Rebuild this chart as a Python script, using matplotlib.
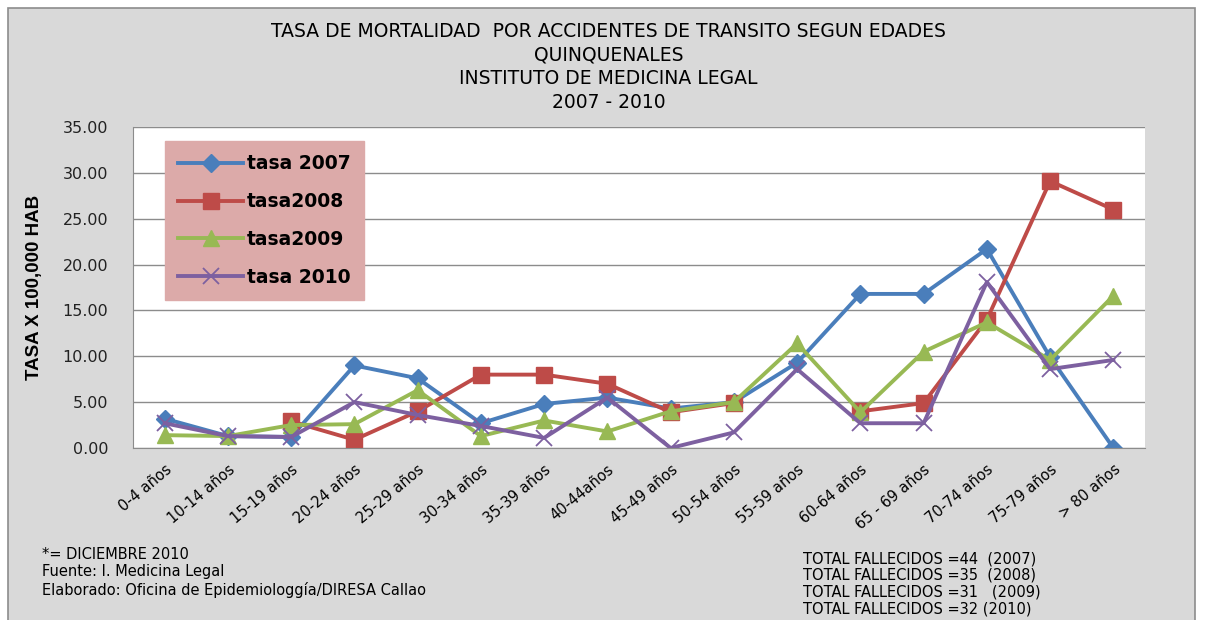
import numpy as np
import matplotlib
matplotlib.use("Agg")
import matplotlib.pyplot as plt
from matplotlib.patches import Rectangle

# Age groups and rates per 100,000
edades = ["0-4 años", "10-14 años", "15-19 años", "20-24 años", "25-29 años",
          "30-34 años", "35-39 años", "40-44años", "45-49 años", "50-54 años",
          "55-59 años", "60-64 años", "65 - 69 años", "70-74 años", "75-79 años",
          "> 80 años"]
tasa_2007 = [3.2, 1.3, 1.2, 9.0, 7.6, 2.7, 4.8, 5.5, 4.3, 5.0, 9.3, 16.8, 16.8, 21.7, 9.9, 0.0]
tasa_2008 = [np.nan, np.nan, 2.9, 0.9, 4.0, 8.0, 8.0, 7.0, 3.9, 4.9, np.nan, 4.0, 4.9, 14.0, 29.1, 26.0]
tasa_2009 = [1.4, 1.3, 2.5, 2.6, 6.3, 1.3, 3.0, 1.8, 4.0, 5.0, 11.4, 3.9, 10.5, 13.7, 9.6, 16.6]
tasa_2010 = [2.7, 1.3, 1.2, 5.0, 3.6, 2.4, 1.1, 5.5, 0.0, 1.7, 8.6, 2.7, 2.7, 18.1, 8.6, 9.6]

series = [
    ("tasa 2007", tasa_2007, "#4a7ebb", "D", 9.5),
    ("tasa2008", tasa_2008, "#be4b48", "s", 11),
    ("tasa2009", tasa_2009, "#98b954", "^", 11),
    ("tasa 2010", tasa_2010, "#7d60a0", "x", 12),
]

titulo = ("TASA DE MORTALIDAD  POR ACCIDENTES DE TRANSITO SEGUN EDADES\n"
          "QUINQUENALES\nINSTITUTO DE MEDICINA LEGAL\n2007 - 2010")
notas = "*= DICIEMBRE 2010\nFuente: I. Medicina Legal\nElaborado: Oficina de Epidemiologgía/DIRESA Callao"
totales = ("TOTAL FALLECIDOS =44  (2007)\nTOTAL FALLECIDOS =35  (2008)\n"
           "TOTAL FALLECIDOS =31   (2009)\nTOTAL FALLECIDOS =32 (2010)")

fig = plt.figure(figsize=(12.05, 6.2), dpi=100)
fig.patch.set_facecolor("white")
fig.patches.append(Rectangle((8 / 1205, -0.01), 1187 / 1205, 1 - 8 / 620 + 0.01,
                             transform=fig.transFigure, facecolor="#d9d9d9",
                             edgecolor="#8c8c8c", linewidth=1.2, zorder=-10))

ax = fig.add_axes([133 / 1205, 1 - 448 / 620, (1145 - 133) / 1205, (448 - 127) / 620])
ax.set_facecolor("white")

x = np.arange(len(edades))
for nombre, vals, color, mk, ms in series:
    kw = dict(markeredgewidth=1.3) if mk == "x" else dict(markeredgecolor=color)
    ax.plot(x, vals, color=color, linewidth=2.8, marker=mk, markersize=ms,
            label=nombre, **kw)

ax.set_xlim(-0.5, len(edades) - 0.5)
ax.set_ylim(0, 35)
ax.set_yticks(np.arange(0, 35.01, 5))
ax.set_yticklabels([f"{v:.2f}" for v in np.arange(0, 35.01, 5)],
                   fontsize=11.5, family="DejaVu Sans", color="#222222")
ax.yaxis.grid(True, color="#8c8c8c", linewidth=1)
ax.set_axisbelow(True)
ax.set_xticks(x)
ax.set_xticklabels(edades, rotation=40, ha="right", rotation_mode="anchor",
                   fontsize=10.5, family="DejaVu Sans")
ax.tick_params(axis="x", length=0, pad=10)
ax.tick_params(axis="y", length=0, pad=18)
for s in ["top", "right"]:
    ax.spines[s].set_visible(False)
for s in ["left", "bottom"]:
    ax.spines[s].set_color("#8c8c8c")

ax.set_ylabel("TASA X 100,000 HAB", fontsize=13.5, fontweight="bold",
              family="Liberation Sans", labelpad=14)

leg = ax.legend(loc="upper left", bbox_to_anchor=(0.022, 0.985), frameon=True,
                fancybox=False, handlelength=3.5, handletextpad=0.2,
                labelspacing=1.0, borderpad=0.7,
                prop={"family": "DejaVu Sans", "weight": "bold", "size": 13.5})
leg.get_frame().set_facecolor("#dcaaa9")
leg.get_frame().set_edgecolor("#dcaaa9")
leg.get_frame().set_alpha(1)

fig.text(0.505, 1 - 22 / 620, titulo, ha="center", va="top", fontsize=13.5,
         family="DejaVu Sans", linespacing=1.3)
fig.text(42 / 1205, 1 - 547 / 620, notas, ha="left", va="top", fontsize=10.5,
         family="DejaVu Sans", linespacing=1.2)
fig.text(803 / 1205, 1 - 551 / 620, totales, ha="left", va="top", fontsize=10.5,
         family="DejaVu Sans", linespacing=1.15)

fig.savefig("out.png", dpi=100, facecolor=fig.get_facecolor())
